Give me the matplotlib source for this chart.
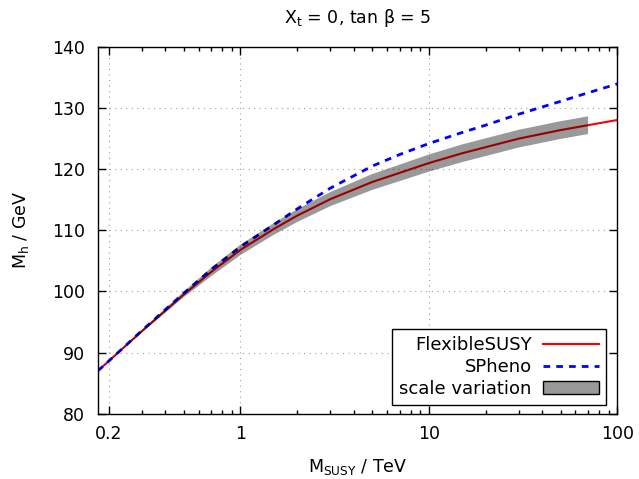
import numpy as np
import matplotlib
matplotlib.use("Agg")
import matplotlib.pyplot as plt
from matplotlib.patches import Patch
from matplotlib.ticker import FixedLocator, LogLocator, NullFormatter

# =============================
# DATA
# =============================
MSUSY = [0.175, 0.2, 0.3, 0.5, 0.7, 1, 1.5, 2, 3, 5, 7, 10, 15, 20, 30, 50, 70, 100]

MH_FS = [87.0, 88.6, 93.5, 99.5, 103.2, 106.8, 110.2, 112.4, 115.1, 117.9,
         119.4, 121.0, 122.6, 123.6, 125.0, 126.4, 127.2, 128.05]

MH_SPHENO = [87.0, 88.6, 93.6, 99.7, 103.6, 107.3, 110.9, 113.5, 116.9, 120.5,
             122.4, 124.2, 126.0, 127.2, 129.0, 131.1, 132.5, 133.95]

# scale variation band (only up to 70 TeV)
BAND_X = [0.175, 0.2, 0.3, 0.5, 0.7, 1, 1.5, 2, 3, 5, 7, 10, 15, 20, 30, 50, 70]
BAND_LO = [86.95, 88.5, 93.3, 99.05, 102.5, 105.95, 109.25, 111.35, 113.95, 116.6,
           118.05, 119.6, 121.15, 122.15, 123.55, 124.95, 125.75]
BAND_HI = [87.05, 88.7, 93.7, 99.95, 103.9, 107.65, 111.15, 113.45, 116.25, 119.2,
           120.75, 122.4, 124.05, 125.05, 126.45, 127.85, 128.65]

X_TICKS = [0.2, 1, 10, 100]
X_TICK_LABELS = ["0.2", "1", "10", "100"]
Y_TICKS = [80, 90, 100, 110, 120, 130, 140]

# =============================
# PLOT
# =============================
plt.rcParams["font.family"] = ["DejaVu Sans"]
plt.rcParams["font.size"] = 12.5

fig = plt.figure(figsize=(6.39, 4.79), dpi=100)
ax = fig.add_axes([0.153, 0.1363, 0.813, 0.7657])

ax.plot(MSUSY, MH_FS, color="#ff0000", lw=1.5, zorder=2)
ax.plot(MSUSY, MH_SPHENO, color="#0000ff", lw=2.0, dashes=(2.4, 2.2), zorder=2)
ax.fill_between(BAND_X, BAND_LO, BAND_HI, facecolor="black", alpha=0.4,
                lw=0, zorder=3)

ax.set_xscale("log")
ax.set_xlim(0.175, 100)
ax.set_ylim(80, 140)

ax.xaxis.set_major_locator(FixedLocator(X_TICKS))
ax.set_xticklabels(X_TICK_LABELS)
ax.xaxis.set_minor_locator(LogLocator(base=10, subs=range(2, 10)))
ax.xaxis.set_minor_formatter(NullFormatter())
ax.set_yticks(Y_TICKS)

ax.tick_params(which="both", direction="in", top=True, right=True)
ax.tick_params(which="major", length=6, width=1, pad=9)
ax.tick_params(which="minor", length=3, width=1)
ax.tick_params(axis="x", which="major", pad=8)

for sp in ax.spines.values():
    sp.set_linewidth(1.0)

ax.grid(True, which="major", color="#a0a0a0", lw=0.8, linestyle=(0, (1, 4)))
ax.set_axisbelow(True)

ax.set_title(r"X$_\mathregular{t}$ = 0, tan β = 5", pad=17, fontsize=12.5)
ax.set_xlabel(r"M$_\mathregular{SUSY}$ / TeV", labelpad=10)
ax.set_ylabel(r"M$_\mathregular{h}$ / GeV", labelpad=15)

handles = [
    plt.Line2D([], [], color="#ff0000", lw=1.5),
    plt.Line2D([], [], color="#0000ff", lw=2.0, dashes=(2.4, 2.2)),
    Patch(facecolor="#999999", edgecolor="black", lw=1),
]
leg = ax.legend(handles, ["FlexibleSUSY", "SPheno", "scale variation"],
                loc="lower right", bbox_to_anchor=(0.978, 0.024),
                borderaxespad=0, markerfirst=False, fancybox=False,
                framealpha=1, edgecolor="black", handlelength=3.1,
                labelspacing=0.2, handletextpad=0.6, borderpad=0.4,
                fontsize=13)
leg.get_frame().set_linewidth(1.0)
for t in leg.get_texts():
    t.set_ha("right")
leg._legend_box.align = "right"

plt.savefig("out.png", dpi=100)
